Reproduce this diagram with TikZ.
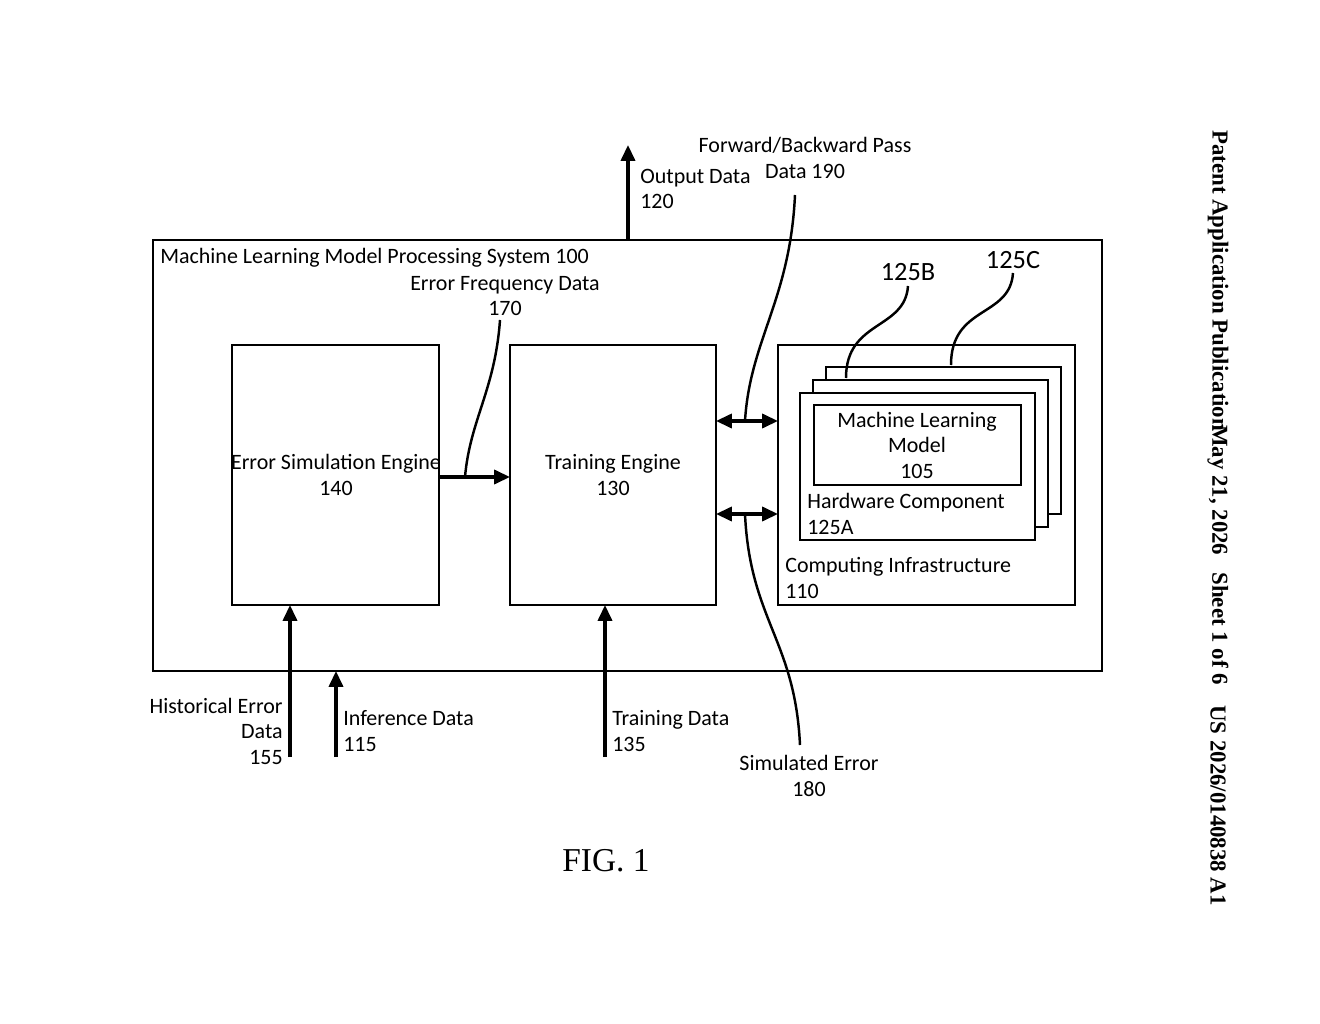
\documentclass[tikz,border=0pt]{standalone}
\usepackage{fontspec}
\setmainfont{Carlito}
\newfontfamily\hdrfont{Liberation Serif}
\usetikzlibrary{arrows.meta,positioning}
\tikzset{
  blk/.style={draw,line width=1.6pt,inner sep=0pt},
  lbl/.style={font=\fontsize{12.5}{14.5}\selectfont,align=center,inner sep=0pt},
  flow/.style={line width=1.8pt,-{Triangle[length=9pt,width=8pt]}},
  dflow/.style={line width=1.8pt,{Triangle[length=9pt,width=8pt]}-{Triangle[length=9pt,width=8pt]}},
  lead/.style={line width=1.4pt},
  hdr/.style={font=\hdrfont\bfseries\fontsize{13}{15}\selectfont,rotate=-90,inner sep=0pt}
}
\begin{document}
\begin{tikzpicture}[x=0.02cm,y=-0.02cm]
\useasboundingbox (0,0) rectangle (1320,1024);
% boxes
\draw[blk] (153,240) rectangle (1102,671);
\node[lbl,anchor=west] (sysl) at (160,258) {Machine Learning Model Processing System 100};
\draw[blk] (232,345) rectangle (439,605);
\node[lbl] (esel) at (336,475) {Error Simulation Engine\\140};
\draw[blk] (510,345) rectangle (716,605);
\node[lbl] (tel) at (613,475) {Training Engine\\130};
\draw[blk] (778,345) rectangle (1075,605);
\node[lbl,anchor=west,align=left] (cil) at (785,578) {Computing Infrastructure\\110};
% hardware stack
\foreach \d in {26,13} {
  \draw[blk,fill=white] (800+\d,393-\d) rectangle (1035+\d,540-\d);
}
\draw[blk,fill=white] (800,393) rectangle (1035,540);
\node[lbl,anchor=west,align=left] (hwl) at (807,514) {Hardware Component\\125A};
\draw[blk] (814,405) rectangle (1021,485);
\node[lbl] (mll) at (917,445) {Machine Learning\\Model\\105};
% coordinates
\coordinate (ese) at (439,477);
\coordinate (tew) at (510,477);
\coordinate (tea) at (716,421);
\coordinate (teb) at (716,514);
\coordinate (cia) at (778,421);
\coordinate (cib) at (778,514);
\coordinate (outs) at (628,240);
\coordinate (oute) at (628,145);
\coordinate (hs) at (290,757);
\coordinate (he) at (290,605);
\coordinate (is) at (336,757);
\coordinate (ie) at (336,671);
\coordinate (ts) at (605,757);
\coordinate (tend) at (605,605);
% arrows
\draw[flow] (ese) -- (tew);
\draw[dflow] (tea) -- (cia);
\draw[dflow] (teb) -- (cib);
\draw[flow] (outs) -- (oute);
\draw[flow] (hs) -- (he);
\draw[flow] (is) -- (ie);
\draw[flow] (ts) -- (tend);
% labels
\node[lbl] (efl) at (505,296) {Error Frequency Data\\170};
\node[lbl,anchor=west,align=left] (outl) at (640,189) {Output Data\\120};
\node[lbl] (fbl) at (805,158) {Forward/Backward Pass\\Data 190};
\node[lbl] (sel) at (809,776) {Simulated Error\\180};
\node[lbl,anchor=east,align=right] (hel) at (283,731) {Historical Error\\Data\\155};
\node[lbl,anchor=west,align=left] (inl) at (343,731) {Inference Data\\115};
\node[lbl,anchor=west,align=left] (trl) at (612,731) {Training Data\\135};
\node[lbl,font=\fontsize{15}{17}\selectfont] (bl) at (908,272) {125B};
\node[lbl,font=\fontsize{15}{17}\selectfont] (cl) at (1013,260) {125C};
% leader lines
\draw[lead] (465,477) .. controls (470,420) and (495,390) .. (500,320);
\draw[lead] (745,421) .. controls (750,340) and (790,300) .. (795,195);
\draw[lead] (745,514) .. controls (750,620) and (795,640) .. (800,745);
\draw[lead] (846,378) .. controls (846,320) and (905,330) .. (908,286);
\draw[lead] (951,365) .. controls (951,305) and (1010,318) .. (1013,273);
% caption and header
\node[font=\hdrfont\fontsize{19}{21}\selectfont] (fig) at (606,861) {FIG. 1};
\node[hdr,anchor=west] (h1) at (1218,130) {Patent Application Publication};
\node[hdr,anchor=west] (h2) at (1218,425) {May 21, 2026\hspace{0.5em} Sheet 1 of 6};
\node[hdr,anchor=west] (h3) at (1218,705) {US 2026/0140838 A1};
\end{tikzpicture}
\end{document}
